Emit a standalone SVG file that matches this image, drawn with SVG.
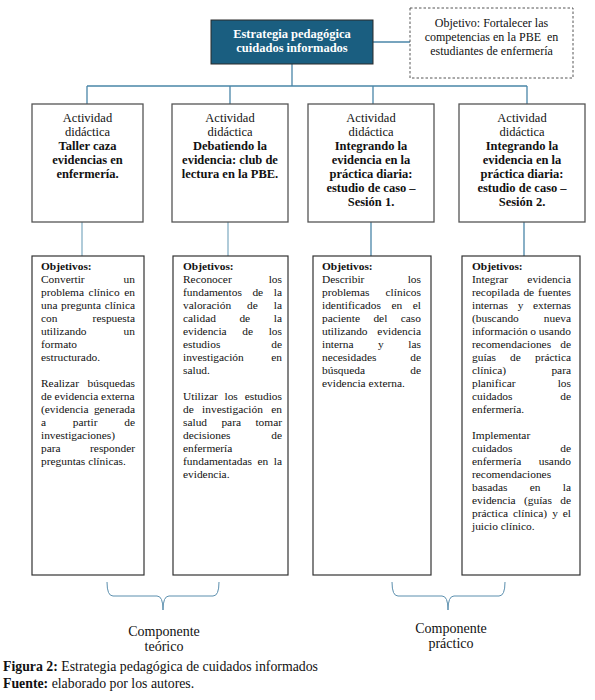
<svg xmlns="http://www.w3.org/2000/svg" width="595" height="700" viewBox="0 0 595 700">
<style>
.t{font-family:"Liberation Serif","Times New Roman",serif;fill:#111}
.act{font-size:12.5px;text-anchor:middle}
.b{font-weight:bold}
.o{font-size:11.4px}
.e{text-anchor:end}
.box{fill:#fff;stroke:#555;stroke-width:1.3}
.obox{fill:#fff;stroke:#333;stroke-width:1.2}
.con{fill:none;stroke:#4a86a8;stroke-width:1.3}
.lt{fill:none;stroke:#9dbfd0;stroke-width:1.6}
.br{fill:none;stroke:#5b8fae;stroke-width:1}
.cap{font-size:13.8px}
.comp{font-size:14px;text-anchor:middle}
</style>
<rect width="595" height="700" fill="#fff"/>

<g id="connectors">
  <path class="con" d="M373,42 H410"/>
  <path class="con" d="M292,64 V86 M87,86 H527 M87,86 V104 M230,86 V104 M373,86 V104 M527,86 V104"/>
  <path class="lt" d="M82,222 V256 M228,222 V256"/>
  <path class="con" d="M371,222 V256 M524,222 V256"/>
</g>

<g id="main">
  <rect x="211" y="20" width="162" height="44" fill="#1a5e80" stroke="#2a2a2a" stroke-width="1"/>
  <text class="t act b" x="292" y="38" style="fill:#fff">Estrategia pedagógica</text>
  <text class="t act b" x="292" y="52" style="fill:#fff">cuidados informados</text>
</g>

<g id="objetivo-general">
  <rect x="410" y="8" width="163" height="70" fill="#fff" stroke="#555" stroke-width="1" stroke-dasharray="2.5,2"/>
  <text class="t act" style="font-size:12px" x="491.5" y="27">Objetivo: Fortalecer las</text>
  <text class="t act" style="font-size:12px" x="491.5" y="41" xml:space="preserve">competencias en la PBE  en</text>
  <text class="t act" style="font-size:12px" x="491.5" y="55">estudiantes de enfermería</text>
</g>

<g id="actividad-1">
  <rect class="box" x="32" y="104" width="111" height="118"/>
  <text class="t act" x="87.5" y="122">Actividad</text>
  <text class="t act" x="87.5" y="136">didáctica</text>
  <text class="t act b" x="87.5" y="150">Taller caza</text>
  <text class="t act b" x="87.5" y="164">evidencias en</text>
  <text class="t act b" x="87.5" y="178">enfermería.</text>
</g>

<g id="actividad-2">
  <rect class="box" x="172" y="104" width="116" height="118"/>
  <text class="t act" x="230" y="122">Actividad</text>
  <text class="t act" x="230" y="136">didáctica</text>
  <text class="t act b" x="230" y="150">Debatiendo la</text>
  <text class="t act b" x="230" y="164">evidencia: club de</text>
  <text class="t act b" x="230" y="178">lectura en la PBE.</text>
</g>

<g id="actividad-3">
  <rect class="box" x="308" y="104" width="126" height="118"/>
  <text class="t act" x="371" y="122">Actividad</text>
  <text class="t act" x="371" y="136">didáctica</text>
  <text class="t act b" x="371" y="150">Integrando la</text>
  <text class="t act b" x="371" y="164">evidencia en la</text>
  <text class="t act b" x="371" y="178">práctica diaria:</text>
  <text class="t act b" x="371" y="192">estudio de caso –</text>
  <text class="t act b" x="371" y="206">Sesión 1.</text>
</g>

<g id="actividad-4">
  <rect class="box" x="459" y="104" width="126" height="118"/>
  <text class="t act" x="522" y="122">Actividad</text>
  <text class="t act" x="522" y="136">didáctica</text>
  <text class="t act b" x="522" y="150">Integrando la</text>
  <text class="t act b" x="522" y="164">evidencia en la</text>
  <text class="t act b" x="522" y="178">práctica diaria:</text>
  <text class="t act b" x="522" y="192">estudio de caso –</text>
  <text class="t act b" x="522" y="206">Sesión 2.</text>
</g>

<g id="objetivos-1" class="t o">
  <rect class="obox" x="32" y="256" width="112" height="319"/>
  <text class="b" x="41" y="270">Objetivos:</text>
  <text x="41" y="283">Convertir</text><text class="e" x="135" y="283">un</text>
  <text x="41" y="296">problema</text><text x="88.6" y="296">clínico</text><text class="e" x="135" y="296">en</text>
  <text x="41" y="309">una</text><text x="61.1" y="309">pregunta</text><text class="e" x="135" y="309">clínica</text>
  <text x="41" y="322">con</text><text class="e" x="135" y="322">respuesta</text>
  <text x="41" y="335">utilizando</text><text class="e" x="135" y="335">un</text>
  <text x="41" y="348">formato</text>
  <text x="41" y="361">estructurado.</text>
  <text x="41" y="387">Realizar</text><text class="e" x="135" y="387">búsquedas</text>
  <text x="41" y="400">de evidencia externa</text>
  <text x="41" y="413">(evidencia</text><text class="e" x="135" y="413">generada</text>
  <text x="41" y="426">a</text><text x="72.8" y="426">partir</text><text class="e" x="135" y="426">de</text>
  <text x="41" y="439">investigaciones)</text>
  <text x="41" y="452">para</text><text class="e" x="135" y="452">responder</text>
  <text x="41" y="465">preguntas clínicas.</text>
</g>

<g id="objetivos-2" class="t o">
  <rect class="obox" x="173" y="256" width="115" height="319"/>
  <text class="b" x="183" y="270">Objetivos:</text>
  <text x="183" y="283">Reconocer</text><text class="e" x="282" y="283">los</text>
  <text x="183" y="296">fundamentos</text><text x="252.4" y="296">de</text><text class="e" x="282" y="296">la</text>
  <text x="183" y="309">valoración</text><text x="247" y="309">de</text><text class="e" x="282" y="309">la</text>
  <text x="183" y="322">calidad</text><text x="239.4" y="322">de</text><text class="e" x="282" y="322">la</text>
  <text x="183" y="335">evidencia</text><text x="242.3" y="335">de</text><text class="e" x="282" y="335">los</text>
  <text x="183" y="348">estudios</text><text class="e" x="282" y="348">de</text>
  <text x="183" y="361">investigación</text><text class="e" x="282" y="361">en</text>
  <text x="183" y="374">salud.</text>
  <text x="183" y="400">Utilizar</text><text x="224.5" y="400">los</text><text class="e" x="282" y="400">estudios</text>
  <text x="183" y="413">de</text><text x="202.1" y="413">investigación</text><text class="e" x="282" y="413">en</text>
  <text x="183" y="426">salud</text><text x="221.4" y="426">para</text><text class="e" x="282" y="426">tomar</text>
  <text x="183" y="439">decisiones</text><text class="e" x="282" y="439">de</text>
  <text x="183" y="452">enfermería</text>
  <text x="183" y="465">fundamentadas</text><text x="257.5" y="465">en</text><text class="e" x="282" y="465">la</text>
  <text x="183" y="478">evidencia.</text>
</g>

<g id="objetivos-3" class="t o">
  <rect class="obox" x="313" y="256" width="118" height="319"/>
  <text class="b" x="322" y="270">Objetivos:</text>
  <text x="322" y="283">Describir</text><text class="e" x="421" y="283">los</text>
  <text x="322" y="296">problemas</text><text class="e" x="421" y="296">clínicos</text>
  <text x="322" y="309">identificados</text><text x="391.4" y="309">en</text><text class="e" x="421" y="309">el</text>
  <text x="322" y="322">paciente</text><text x="373.4" y="322">del</text><text class="e" x="421" y="322">caso</text>
  <text x="322" y="335">utilizando</text><text class="e" x="421" y="335">evidencia</text>
  <text x="322" y="348">interna</text><text x="378.1" y="348">y</text><text class="e" x="421" y="348">las</text>
  <text x="322" y="361">necesidades</text><text class="e" x="421" y="361">de</text>
  <text x="322" y="374">búsqueda</text><text class="e" x="421" y="374">de</text>
  <text x="322" y="387">evidencia externa.</text>
</g>

<g id="objetivos-4" class="t o">
  <rect class="obox" x="462" y="256" width="118" height="319"/>
  <text class="b" x="472" y="270">Objetivos:</text>
  <text x="472" y="283">Integrar</text><text class="e" x="571" y="283">evidencia</text>
  <text x="472" y="296">recopilada</text><text x="523.4" y="296">de</text><text class="e" x="571" y="296">fuentes</text>
  <text x="472" y="309">internas</text><text x="517.7" y="309">y</text><text class="e" x="571" y="309">externas</text>
  <text x="472" y="322">(buscando</text><text class="e" x="571" y="322">nueva</text>
  <text x="472" y="335">información</text><text x="530.3" y="335">o</text><text class="e" x="571" y="335">usando</text>
  <text x="472" y="348">recomendaciones</text><text class="e" x="571" y="348">de</text>
  <text x="472" y="361">guías</text><text x="510.1" y="361">de</text><text class="e" x="571" y="361">práctica</text>
  <text x="472" y="374">clínica)</text><text class="e" x="571" y="374">para</text>
  <text x="472" y="387">planificar</text><text class="e" x="571" y="387">los</text>
  <text x="472" y="400">cuidados</text><text class="e" x="571" y="400">de</text>
  <text x="472" y="413">enfermería.</text>
  <text x="472" y="439">Implementar</text>
  <text x="472" y="452">cuidados</text><text class="e" x="571" y="452">de</text>
  <text x="472" y="465">enfermería</text><text class="e" x="571" y="465">usando</text>
  <text x="472" y="478">recomendaciones</text>
  <text x="472" y="491">basadas</text><text x="529.7" y="491">en</text><text class="e" x="571" y="491">la</text>
  <text x="472" y="504">evidencia</text><text x="524" y="504">(guías</text><text class="e" x="571" y="504">de</text>
  <text x="472" y="517">práctica</text><text x="513" y="517">clínica)</text><text x="552.2" y="517">y</text><text class="e" x="571" y="517">el</text>
  <text x="472" y="530">juicio clínico.</text>
</g>

<g id="componente-teorico">
  <path class="br" d="M107,582 Q107,596 113,596 H157 Q163,596 163,610 Q163,596 169,596 H213 Q219,596 219,582"/>
  <text class="t comp" x="164" y="636">Componente</text>
  <text class="t comp" x="164" y="651">teórico</text>
</g>

<g id="componente-practico">
  <path class="br" d="M392,582 Q392,596 398,596 H442 Q448,596 448,610 Q448,596 454,596 H499 Q505,596 505,582"/>
  <text class="t comp" x="451" y="633">Componente</text>
  <text class="t comp" x="451" y="648">práctico</text>
</g>

<g id="caption" class="t cap">
  <text x="3" y="671"><tspan class="b">Figura 2:</tspan> Estrategia pedagógica de cuidados informados</text>
  <text x="3" y="688"><tspan class="b">Fuente:</tspan> elaborado por los autores.</text>
</g>
</svg>
